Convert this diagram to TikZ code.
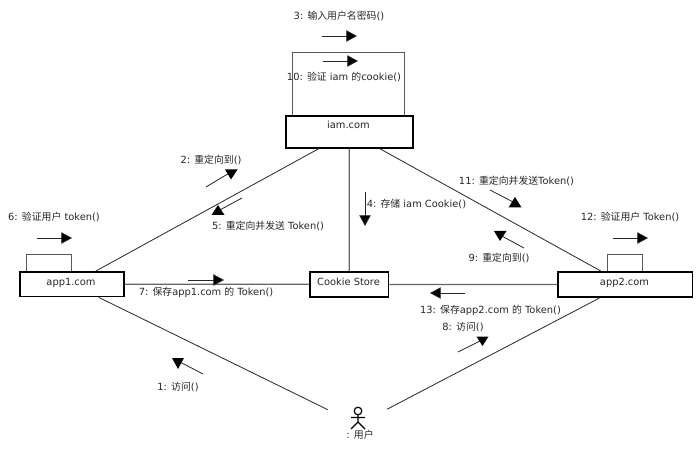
\documentclass[tikz,border=0pt]{standalone}
\usepackage{fontspec}
\setmainfont{DejaVu Sans}
\newfontfamily\cjkf{Noto Sans CJK SC}
\newcommand{\zh}[1]{{\cjkf #1}}
\usetikzlibrary{arrows.meta}
\tikzset{
  objbox/.style={draw=black,line width=1.3pt,fill=white,inner sep=0pt,anchor=north west,align=center},
  loopbox/.style={draw=black!65,line width=.7pt},
  link/.style={draw=black!85,line width=.6pt},
  straightlink/.style={draw=black!60,line width=.95pt},
  msg/.style={draw=black!85,line width=.6pt,-{Triangle[length=8pt,width=8.5pt,fill=black]}},
  msgshaft/.style={draw=black!85,line width=.6pt},
  msghead/.style={fill=black},
  lbl/.style={font=\fontsize{7.4pt}{9pt}\selectfont,text=black!85,inner sep=0pt},
  ghost/.style={inner sep=0pt,minimum width=45pt,minimum height=22.5pt},
  stick/.style={draw=black,line width=.9pt}
}
\begin{document}
\begin{tikzpicture}[x=.75pt,y=-.75pt]
\useasboundingbox (0,0) rectangle (700,449);
% self-loops
\draw[loopbox] (292,115) -- (292,52) -- (404,52) -- (404,115);
\draw[loopbox] (26,271) -- (26,254) -- (71,254) -- (71,271);
\draw[loopbox] (607,271) -- (607,254) -- (642,254) -- (642,271);
% objects
\node[objbox,minimum width=95.25pt,minimum height=24pt] (iam) at (285,115) {};
\node[objbox,minimum width=78pt,minimum height=18.5pt] (app1) at (19,271) {};
\node[objbox,minimum width=59pt,minimum height=18.75pt] (store) at (309,271) {};
\node[objbox,minimum width=101pt,minimum height=19pt] (app2) at (557,271) {};
\node[ghost] (user) at (358,424.5) {};
\node[lbl] at (348.5,125) {iam.com};
\node[lbl] at (71,282.5) {app1.com};
\node[lbl] at (348.5,282) {Cookie Store};
\node[lbl] at (624.5,282.5) {app2.com};
% links
\draw[link] (iam) -- (app1);
\draw[link] (iam) -- (app2);
\draw[straightlink] (iam) -- (store);
\draw[straightlink] (app1) -- (store);
\draw[straightlink] (store) -- (app2);
\draw[link] (app1) -- (user);
\draw[link] (app2) -- (user);
% actor
\draw[stick] (358,411) circle (3.8);
\draw[stick] (358,415) -- (358,422) (351,417.5) -- (365,417.5) (351,429) -- (358,422) -- (365,429);
\node[lbl] at (360,435) {: \zh{用户}};
% straight message arrows
\coordinate (m3a) at (322,36); \coordinate (m3b) at (357,36);
\coordinate (m10a) at (323,61); \coordinate (m10b) at (358,61);
\coordinate (m6a) at (37,238); \coordinate (m6b) at (72,238);
\coordinate (m12a) at (613,238); \coordinate (m12b) at (648,238);
\coordinate (m7a) at (188,280); \coordinate (m7b) at (224,280);
\coordinate (m13a) at (465,293); \coordinate (m13b) at (430,293);
\coordinate (m4a) at (365,192); \coordinate (m4b) at (365,226);
\foreach \m in {3,10,6,12,7,13,4} \draw[msg] (m\m a) -- (m\m b);
% slanted message arrows: upright heads as in the reference
\draw[msgshaft] (206,187) -- (231,172);
\fill[msghead] (225,169.5) -- (237.5,169.5) -- (231,179.5) -- cycle;
\draw[msgshaft] (242,198) -- (218,211);
\fill[msghead] (218,205) -- (224.5,215) -- (211.5,215) -- cycle;
\draw[msgshaft] (490,190) -- (515,203);
\fill[msghead] (515,197) -- (521.5,207.5) -- (508.5,207.5) -- cycle;
\draw[msgshaft] (524,248) -- (500,235);
\fill[msghead] (494,231) -- (506.5,231) -- (500,241) -- cycle;
\draw[msgshaft] (458,352) -- (482,340);
\fill[msghead] (476.5,336.5) -- (488.5,336.5) -- (482.5,346) -- cycle;
\draw[msgshaft] (203,374) -- (178,361);
\fill[msghead] (172,358) -- (184,358) -- (178,369) -- cycle;
% labels
\node[lbl] at (339,16) {3: \zh{输入用户名密码}()};
\node[lbl] at (344,76.5) {10: \zh{验证} iam \zh{的}cookie()};
\node[lbl] at (211,160) {2: \zh{重定向到}()};
\node[lbl] at (268,226) {5: \zh{重定向并发送} Token()};
\node[lbl] at (54,217) {6: \zh{验证用户} token()};
\node[lbl] at (416.5,204) {4: \zh{存储} iam Cookie()};
\node[lbl] at (516.5,181) {11: \zh{重定向并发送}Token()};
\node[lbl] at (630,217) {12: \zh{验证用户} Token()};
\node[lbl] at (499,258) {9: \zh{重定向到}()};
\node[lbl] at (206,292) {7: \zh{保存}app1.com \zh{的} Token()};
\node[lbl] at (490.5,310) {13: \zh{保存}app2.com \zh{的} Token()};
\node[lbl] at (463,327) {8: \zh{访问}()};
\node[lbl] at (178,387) {1: \zh{访问}()};
\end{tikzpicture}
\end{document}
